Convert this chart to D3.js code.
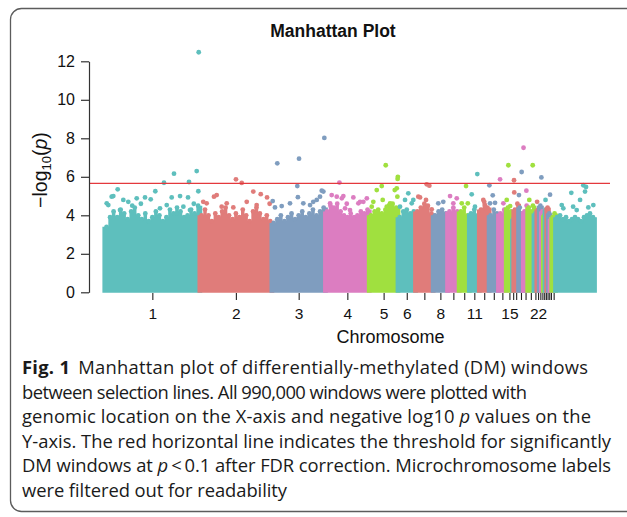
<!DOCTYPE html>
<html><head><meta charset="utf-8">
<script src="https://cdn.jsdelivr.net/npm/d3@7"></script>
<style>html,body{margin:0;padding:0;background:#fff;} svg{display:block;}</style>
</head><body>
<svg id="chart" width="627" height="517"></svg>
<script>
// ---------------- DATA ----------------
const chromosomes = ["1","2","3","4","5","6","7","8","9","10","11","12","13","14","15","16","17","18","19","20","21","22","23","24","25","26","27","28","30","31","Z"];
const chromLengthMb = [197.6,149.7,111.3,91.0,59.8,36.4,36.7,29.9,24.1,21.1,20.8,20.4,19.4,16.2,13.1,2.5,10,10,9,13,6,5,4.5,4,3.5,3.5,3.5,3.5,3.5,7.8,81];
const shownLabels = ["1","2","3","4","5","6","8","11","15","22"];
const yTicks = [0,2,4,6,8,10,12];
const threshold = 5.66;

// upper edge of the dense mass of windows (-log10 p), sampled evenly along each chromosome
const bodyTop = [
  [3.4,3.9,4.2,3.9,4.3,4.1,3.8,4.2,4.4,4.0,3.8,4.1,3.7,3.9,4.2,4.0,3.7,3.9,4.3,4.1,4.4,4.2,3.9,4.0,4.3,4.1,4.5],
  [4.0,4.3,4.0,3.7,4.1,3.9,4.2,4.4,4.0,3.8,4.1,3.9,4.3,4.0,3.7,4.2,4.4,4.1,3.8,4.0,3.7],
  [3.6,3.8,4.0,3.7,3.9,4.1,3.8,4.0,4.2,3.9,4.1,4.3,4.0,4.2,4.4],
  [4.2,4.5,4.4,4.6,4.2,4.0,3.9,4.1,3.9,4.0,4.2,4.1,4.3],
  [4.0,4.2,4.3,4.1,4.3,4.5,4.6,4.4],
  [3.9,4.2,4.3,4.1,4.2],
  [4.2,4.4,4.6,4.5,4.1],
  [4.0,4.2,4.3,4.1],
  [4.2,4.4,4.2],
  [4.2,4.4,4.0],
  [4.1,4.3,4.0],
  [4.3,4.7,4.4],
  [4.0,4.3,4.1],
  [4.1,4.3],
  [4.4,4.2],
  [3.8],[4.3,4.6],[4.4,4.1],[4.2,4.5],[4.4,4.2,4.5],[4.1],[4.3],[4.5],[4.2],[4.0],[4.3],[4.4],[4.1],[3.8],[3.9,4.1],
  [3.9,4.0,3.8,3.9,3.7,3.8,3.9,3.8,3.7,3.9,4.0,4.1,3.9]
];

// individual windows standing out above the mass: [chromosome, position (Mb), -log10 p]
const points = [
  ["1",4,4.62],["1",7.3,4.53],["1",14.3,4.97],["1",17.7,5.0],["1",26.8,5.35],["1",31.6,4.27],["1",38.5,4.8],["1",48.8,4.7],["1",57,4.5],["1",66.3,4.88],["1",75,4.6],["1",83.6,4.93],["1",95.4,4.83],["1",105,5.25],["1",114.7,4.36],["1",123,5.69],["1",128.7,4.53],["1",139,4.93],["1",143.8,6.16],["1",149.5,4.1],["1",156.4,5.0],["1",163.3,4.45],["1",173,4.93],["1",175,5.73],["1",177,4.27],["1",185,4.6],["1",191,6.3],["1",194.4,5.25],["1",195.2,12.47],
  ["2",7,4.7],["2",14.1,4.62],["2",29.3,4.97],["2",35,5.05],["2",45.3,4.45],["2",55.8,4.62],["2",69.5,4.41],["2",75,5.87],["2",87,5.68],["2",97.4,4.7],["2",111,5.23],["2",118,4.53],["2",126.5,5.1],["2",139.6,4.93],["2",145,4.6],
  ["3",1.7,4.74],["3",6.4,4.41],["3",11.2,6.7],["3",20.4,4.48],["3",37.6,4.62],["3",52.8,5.52],["3",54,4.94],["3",56.4,6.94],["3",65.3,4.62],["3",79.3,4.53],["3",86,4.7],["3",93.2,4.8],["3",100,4.97],["3",103.6,5.28],["3",107,5.23],["3",109,8.02],
  ["4",9.6,4.62],["4",13,5.05],["4",23.5,4.97],["4",29,5.7],["4",34,4.88],["4",37.2,5.0],["4",40.8,4.36],["4",44.3,4.6],["4",51,4.27],["4",58,4.93],["4",68.4,4.62],["4",72,4.7],["4",78.8,4.7],["4",86,4.88],
  ["5",5.2,4.45],["5",8.5,4.7],["5",15.6,5.31],["5",26,5.52],["5",28,4.8],["5",34.3,6.6],["5",36.4,4.45],["5",43.3,4.62],["5",53,5.31],["5",57.2,5.4],["5",58.5,4.97],["5",59.0,5.89],["5",59.5,6.0],
  ["6",4.2,4.45],["6",14.6,4.8],["6",21.4,5.14],["6",28.5,4.62],["6",31.8,4.8],
  ["7",5.8,4.97],["7",9.4,4.93],["7",21.8,4.8],["7",23.3,5.61],["7",28.7,5.54],["7",33.7,4.31],
  ["8",10.6,4.62],["8",21,4.7],
  ["9",5.2,5.0],["9",12,4.62],["9",19.1,4.88],
  ["10",5.4,4.62],["10",14.3,5.52],["10",18,4.62],
  ["11",5,5.09],["11",11.8,4.45],["11",16.6,6.14],
  ["12",5,4.27],["12",8.3,4.8],["12",11.8,4.53],
  ["13",0.5,5.56],["13",1.9,4.62],["13",7.5,5.04],["13",12.3,4.65],
  ["14",3.3,5.87],["14",10.2,4.62],
  ["15",1,4.8],["15",4.4,6.6],["15",8,4.48],
  ["17",0.5,5.82],["17",1,5.19],
  ["18",0.8,5.05],["18",6.4,6.25],
  ["19",0.3,7.51],["19",6.2,5.28],
  ["20",3.3,4.8],["20",10.4,6.6],
  ["22",0.5,4.7],["23",4.4,5.97],["26",1,4.8],["28",3.4,5.07],
  ["Z",12.9,4.53],["Z",16.2,4.36],["Z",32.8,5.17],["Z",36.6,4.45],["Z",44,4.27],["Z",51,4.8],["Z",57.8,5.56],["Z",61.3,5.23],["Z",63.4,5.47],["Z",68.2,4.41],["Z",78.6,4.53]
];

const captionLines = [
  [["Fig. 1","bold"],["Manhattan plot of differentially-methylated (DM) windows","gap"]],
  [["between selection lines. All 990,000 windows were plotted with",""]],
  [["genomic location on the X-axis and negative log10 ",""],["p","italic"],[" values on the",""]],
  [["Y-axis. The red horizontal line indicates the threshold for significantly",""]],
  [["DM windows at ",""],["p","italic"],["\u2009<\u20090.1 after FDR correction. Microchromosome labels",""]],
  [["were filtered out for readability",""]]
];

// ---------------- DRAW ----------------
const svg = d3.select("#chart");
const palette = ["#5ebfbd","#e07c7a","#7f9dbf","#dc7dc1","#a0e03f"];
const R = 2.4;
const chartFont = "'Liberation Sans', Arial, sans-serif";

// figure frame
svg.append("rect").attr("x",10.5).attr("y",8.5).attr("width",650).attr("height",503)
  .attr("rx",11).attr("fill","none").attr("stroke","#5c5c5c").attr("stroke-width",1.3);

const starts = []; let acc = 0;
chromLengthMb.forEach(l => { starts.push(acc); acc += l; });
const totalMb = acc;

const x = d3.scaleLinear().domain([0,totalMb]).range([104.8,594.5]);
const y = d3.scaleLinear().domain([0,12]).range([292.3,61.3]);

const area = d3.area().x(d => d.px).y0(y(0) + 0.5).y1(d => y(d.v)).curve(d3.curveStepAfter);

const plot = svg.append("g");
chromosomes.forEach((c,ci) => {
  const g = plot.append("g").attr("fill", palette[ci % 5]);
  const vals = bodyTop[ci], n = vals.length, s = starts[ci], L = chromLengthMb[ci];
  const steps = vals.map((v,i) => ({px: x(s + i*L/n) - (i===0 ? R : 0), v}));
  steps.push({px: x(s + L) + R, v: vals[n-1]});
  g.append("path").attr("d", area(steps));
  g.selectAll("circle.top").data(vals).join("circle").attr("class","top")
    .attr("cx",(v,i) => x(s+(i+0.5)*L/n)).attr("cy",v => y(v)).attr("r",R);
  g.selectAll("circle.pt").data(points.filter(p => p[0]===c)).join("circle").attr("class","pt")
    .attr("cx",p => x(s+p[1])).attr("cy",p => y(p[2])).attr("r",R);
});

// threshold
svg.append("line").attr("x1",89).attr("x2",610).attr("y1",y(threshold)).attr("y2",y(threshold))
  .attr("stroke","#e4393d").attr("stroke-width",1.4);

// y axis
const yAxisG = svg.append("g").attr("transform","translate(89,0)")
  .call(d3.axisLeft(y).tickValues(yTicks).tickSize(8).tickSizeOuter(0).tickPadding(6).tickFormat(d3.format("d")));
yAxisG.selectAll("path,line").attr("stroke","#333").attr("stroke-width",1.2);
yAxisG.selectAll("text").attr("font-family",chartFont).attr("font-size",16).attr("fill","#111");

// x axis
const mids = chromosomes.slice(0,-1).map((c,i) => starts[i] + chromLengthMb[i]/2);
const xAxisG = svg.append("g").attr("transform","translate(0,293)")
  .call(d3.axisBottom(x).tickValues(mids).tickSize(7).tickPadding(7.5)
    .tickFormat((d,i) => shownLabels.includes(chromosomes[i]) ? chromosomes[i] : ""));
xAxisG.select(".domain").remove();
xAxisG.selectAll("line").attr("stroke","#222").attr("stroke-width",1.1);
xAxisG.selectAll("text").attr("font-family",chartFont).attr("font-size",15.5).attr("fill","#111");

// titles
svg.append("text").attr("x",333).attr("y",37).attr("text-anchor","middle")
  .attr("font-family",chartFont).attr("font-weight","bold").attr("font-size",17.5).attr("fill","#111")
  .text("Manhattan Plot");
svg.append("text").attr("x",390.5).attr("y",342.5).attr("text-anchor","middle")
  .attr("font-family",chartFont).attr("font-size",18).attr("fill","#111").text("Chromosome");
const yt = svg.append("text").attr("transform","translate(47,170) rotate(-90)").attr("text-anchor","middle")
  .attr("font-family",chartFont).attr("font-size",19.5).attr("fill","#111");
yt.append("tspan").text("\u2212log");
yt.append("tspan").attr("font-size",13).attr("dy",4).text("10");
yt.append("tspan").attr("dy",-4).text("(");
yt.append("tspan").attr("font-style","italic").text("p");
yt.append("tspan").text(")");

// caption
const capFont = "'Open Sans', 'Noto Sans', sans-serif";
const capWidths = [566,505,569,589,589,265];
const cap = svg.append("g").attr("font-family",capFont).attr("fill","#1a1a1a");
const texts = captionLines.map((segs,li) => {
  const t = cap.append("text").attr("x",22).attr("y",374 + li*24.5);
  segs.forEach(([str,st]) => {
    const ts = t.append("tspan").text(str);
    if (st==="bold") ts.attr("font-weight","bold");
    if (st==="italic") ts.attr("font-style","italic");
    if (st==="gap") ts.attr("dx",8);
  });
  return t;
});
cap.attr("font-size",17);
const w4 = texts[3].node().getComputedTextLength();
const fs = 17 * capWidths[3] / w4;
cap.attr("font-size",fs);
texts.forEach((t,i) => t.attr("textLength",capWidths[i]).attr("lengthAdjust","spacing"));
</script>
</body></html>
